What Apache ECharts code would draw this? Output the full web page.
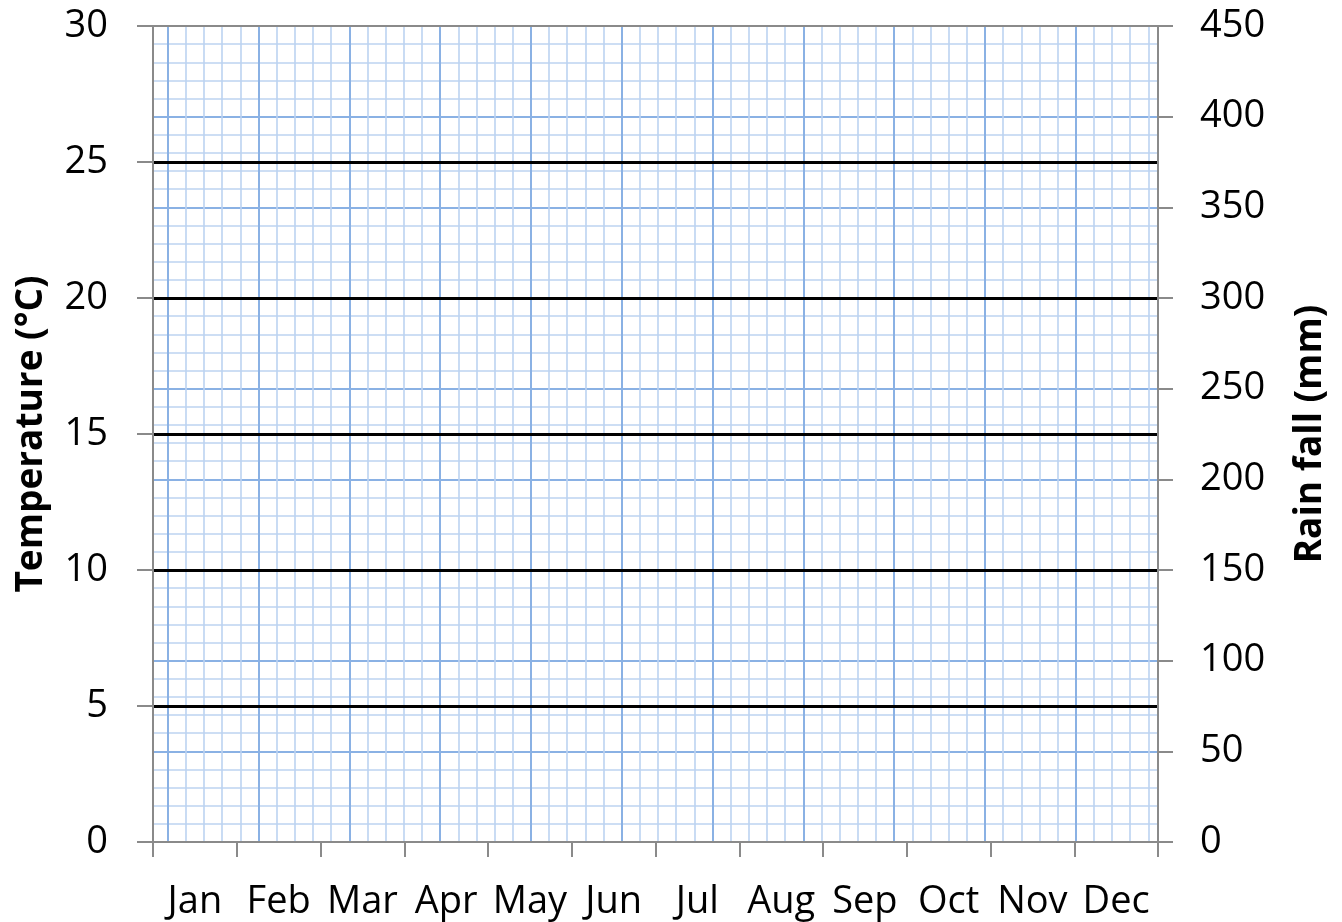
<!DOCTYPE html>
<html><head><meta charset="utf-8">
<script src="https://cdn.jsdelivr.net/npm/echarts@6/dist/echarts.min.js"></script>
<style>html,body{margin:0;padding:0;background:#fff}#c{width:1342px;height:922px}</style>
</head><body><div id="c"></div>
<script>
// Blank climate-graph template: categories and axis ranges only, no plotted values.
const months = ['Jan','Feb','Mar','Apr','May','Jun','Jul','Aug','Sep','Oct','Nov','Dec'];
const temperature = [];   // no values plotted in the reference
const rainfall = [];      // no values plotted in the reference
const tempMin = 0, tempMax = 30, tempStep = 5;
const rainMin = 0, rainMax = 450, rainStep = 50;

const FONT = '"Open Sans", "Liberation Sans", sans-serif';
const GRAY = '#8a8a8a';
const MINOR = '#bcd3f1';
const MAJOR = '#8ab1e4';
const gridBox = {left: 153, right: 184, top: 26, bottom: 80};

const chart = echarts.init(document.getElementById('c'), null, {renderer: 'canvas'});

function paperAxis(gridIndex, min, max, color, width, extra) {
  return Object.assign({
    type: 'value', gridIndex: gridIndex, min: min, max: max, z: 1,
    axisLine: {show: false}, axisTick: {show: false}, axisLabel: {show: false},
    splitLine: {show: true, lineStyle: {color: color, width: width}}
  }, extra || {});
}

chart.setOption({
  animation: false,
  backgroundColor: '#ffffff',
  grid: [
    Object.assign({containLabel: false}, gridBox),
    Object.assign({containLabel: false}, gridBox)
  ],
  xAxis: [
    {
      type: 'category', gridIndex: 0, data: months, boundaryGap: true, z: 5,
      axisLine: {show: true, lineStyle: {color: GRAY, width: 2}},
      axisTick: {show: true, inside: false, length: 15, interval: 0, lineStyle: {color: GRAY, width: 2}},
      axisLabel: {fontSize: 38, fontFamily: FONT, color: '#000', margin: 41, interval: 0},
      splitLine: {show: false}
    },
    paperAxis(1, -0.81, 54.53, MINOR, 1.6, {splitNumber: 55}),
    paperAxis(1, -0.162, 10.906, MAJOR, 2, {splitNumber: 11})
  ],
  yAxis: [
    {
      type: 'value', gridIndex: 0, position: 'left', min: tempMin, max: tempMax, interval: tempStep, z: 5,
      name: 'Temperature (°C)', nameLocation: 'middle', nameGap: 103, nameRotate: 90,
      nameTextStyle: {fontSize: 37, fontWeight: 'bold', fontFamily: FONT, color: '#000'},
      axisLine: {show: true, lineStyle: {color: GRAY, width: 2}},
      axisTick: {show: true, inside: false, length: 16, lineStyle: {color: GRAY, width: 2}},
      axisLabel: {fontSize: 38, fontFamily: FONT, color: '#000', margin: 45},
      splitLine: {show: true, lineStyle: {width: 3,
        color: ['rgba(0,0,0,0)', '#000', '#000', '#000', '#000', '#000', 'rgba(0,0,0,0)']}}
    },
    {
      type: 'value', gridIndex: 0, position: 'right', min: rainMin, max: rainMax, interval: rainStep, z: 5,
      name: 'Rain fall (mm)', nameLocation: 'middle', nameGap: 134, nameRotate: 90,
      nameTextStyle: {fontSize: 37, fontWeight: 'bold', fontFamily: FONT, color: '#000'},
      axisLine: {show: true, lineStyle: {color: GRAY, width: 2}},
      axisTick: {show: true, inside: false, length: 15, lineStyle: {color: GRAY, width: 2}},
      axisLabel: {fontSize: 38, fontFamily: FONT, color: '#000', margin: 42},
      splitLine: {show: true, lineStyle: {width: 2,
        color: ['rgba(0,0,0,0)','rgba(0,0,0,0)','rgba(0,0,0,0)','rgba(0,0,0,0)','rgba(0,0,0,0)',
                'rgba(0,0,0,0)','rgba(0,0,0,0)','rgba(0,0,0,0)','rgba(0,0,0,0)', GRAY]}}
    },
    paperAxis(1, 0, 45, MINOR, 1.6, {interval: 1}),
    paperAxis(1, 0, 9, MAJOR, 2, {interval: 1})
  ],
  series: [
    {name: 'Temperature', type: 'line', xAxisIndex: 0, yAxisIndex: 0, data: temperature},
    {name: 'Rainfall', type: 'bar', xAxisIndex: 0, yAxisIndex: 1, data: rainfall}
  ]
});
</script>
</body></html>
